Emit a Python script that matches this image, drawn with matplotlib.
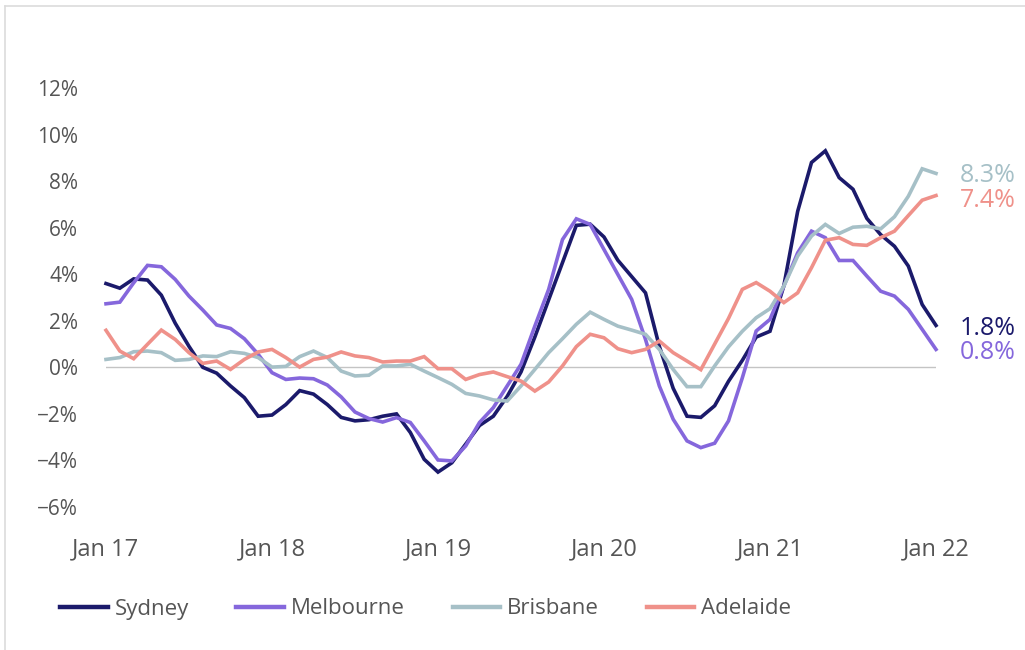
import numpy as np
import matplotlib
matplotlib.use("Agg")
import matplotlib.pyplot as plt
from matplotlib.lines import Line2D

plt.rcParams['font.family'] = ['Open Sans', 'DejaVu Sans']

# monthly annual growth (%), Jan 2017 .. Jan 2022
months = np.arange(61)
tick_pos = [0, 12, 24, 36, 48, 60]
tick_labels = ['Jan 17', 'Jan 18', 'Jan 19', 'Jan 20', 'Jan 21', 'Jan 22']

sydney = [3.6, 3.4, 3.8, 3.75, 3.1, 1.9, 0.9, 0.0, -0.25, -0.8,
          -1.3, -2.1, -2.05, -1.6, -1.0, -1.15, -1.6, -2.15, -2.3, -2.25,
          -2.1, -2.0, -2.8, -3.95, -4.5, -4.1, -3.3, -2.5, -2.1, -1.25,
          -0.2, 1.3, 2.9, 4.5, 6.1, 6.15, 5.6, 4.6, 3.9, 3.2,
          0.9, -0.9, -2.1, -2.15, -1.65, -0.6, 0.3, 1.3, 1.55, 3.5,
          6.7, 8.8, 9.3, 8.15, 7.65, 6.4, 5.7, 5.2, 4.35, 2.7, 1.8]

melbourne = [2.73, 2.8, 3.63, 4.38, 4.32, 3.78, 3.06, 2.46, 1.82, 1.67,
             1.23, 0.56, -0.23, -0.52, -0.46, -0.49, -0.76, -1.27, -1.92, -2.2,
             -2.35, -2.16, -2.37, -3.16, -3.98, -4.02, -3.38, -2.37, -1.73, -0.8,
             0.13, 1.77, 3.35, 5.49, 6.38, 6.14, 5.06, 3.99, 2.92, 1.2,
             -0.8, -2.23, -3.16, -3.45, -3.26, -2.3, -0.45, 1.56, 2.06, 3.49,
             4.92, 5.85, 5.57, 4.59, 4.59, 3.92, 3.27, 3.06, 2.49, 1.63, 0.77]

brisbane = [0.34, 0.42, 0.67, 0.7, 0.63, 0.3, 0.34, 0.49, 0.46, 0.67,
            0.6, 0.42, 0.01, 0.04, 0.46, 0.7, 0.42, -0.16, -0.37, -0.34,
            0.06, 0.06, 0.13, -0.16, -0.44, -0.73, -1.12, -1.23, -1.4, -1.45,
            -0.8, -0.09, 0.63, 1.23, 1.85, 2.37, 2.06, 1.77, 1.6, 1.42,
            0.77, -0.09, -0.83, -0.83, 0.06, 0.88, 1.55, 2.13, 2.52, 3.49,
            4.78, 5.64, 6.14, 5.75, 6.02, 6.06, 5.95, 6.47, 7.35, 8.53, 8.33]

adelaide = [1.59, 0.7, 0.37, 0.99, 1.6, 1.2, 0.63, 0.17, 0.27, -0.09,
            0.34, 0.66, 0.77, 0.42, 0.01, 0.34, 0.44, 0.66, 0.49, 0.42,
            0.23, 0.27, 0.27, 0.46, -0.06, -0.06, -0.52, -0.31, -0.2, -0.4,
            -0.59, -1.02, -0.63, 0.06, 0.89, 1.42, 1.27, 0.8, 0.63, 0.77,
            1.13, 0.63, 0.27, -0.1, 1.0, 2.1, 3.35, 3.64, 3.27, 2.78,
            3.2, 4.28, 5.46, 5.57, 5.28, 5.24, 5.57, 5.85, 6.52, 7.18, 7.38]

series = [('Sydney', sydney, '#1b1a6b'),
          ('Melbourne', melbourne, '#8567dc'),
          ('Brisbane', brisbane, '#a6c0c7'),
          ('Adelaide', adelaide, '#ef918a')]

fig = plt.figure(figsize=(10.25, 6.5), dpi=100)
ax = fig.add_axes([106 / 1025, 143 / 650, 830 / 1025, 419 / 650])

ax.axhline(0, color='#c4c4c4', lw=1.0, zorder=1)
for name, vals, col in series:
    ax.plot(months, vals, color=col, lw=2.6, label=name, zorder=3,
            solid_joinstyle='miter', clip_on=False)

# end-value labels, nudged apart where they would collide
end_off = {'Brisbane': -0.1, 'Adelaide': -0.2, 'Sydney': -0.15, 'Melbourne': -0.12}
for name, vals, col in series:
    ax.annotate(f'{vals[-1]:.1f}%', xy=(60, vals[-1] + end_off[name]),
                xytext=(17, 0), textcoords='offset points',
                color=col, fontsize=18, va='center', ha='left',
                annotation_clip=False)

ax.set_xlim(0, 60)
ax.set_ylim(-6, 12)
ax.set_yticks(np.arange(-6, 13, 2))
ax.set_yticklabels([f'{v}%'.replace('-', '\u2212') for v in range(-6, 13, 2)])
ax.set_xticks(tick_pos)
ax.set_xticklabels(tick_labels)
ax.tick_params(axis='both', length=0, labelcolor='#555555')
ax.tick_params(axis='y', pad=20, labelsize=15)
ax.tick_params(axis='x', pad=22, labelsize=17)
for sp in ax.spines.values():
    sp.set_visible(False)

leg = fig.legend(loc='center left', bbox_to_anchor=(40 / 1025, 41 / 650),
                 ncol=4, frameon=False, fontsize=16, handlelength=2.15,
                 handletextpad=0.3, columnspacing=2.15)
for t in leg.get_texts():
    t.set_color('#555555')
for h in leg.legend_handles:
    h.set_linewidth(3.2)

# faint card frame
fig.add_artist(Line2D([5 / 1025, 5 / 1025], [0, 644 / 650], color='#dcdcdc', lw=1.2))
fig.add_artist(Line2D([5 / 1025, 1], [644 / 650, 644 / 650], color='#dcdcdc', lw=1.2))

fig.savefig('out.png', dpi=100)
